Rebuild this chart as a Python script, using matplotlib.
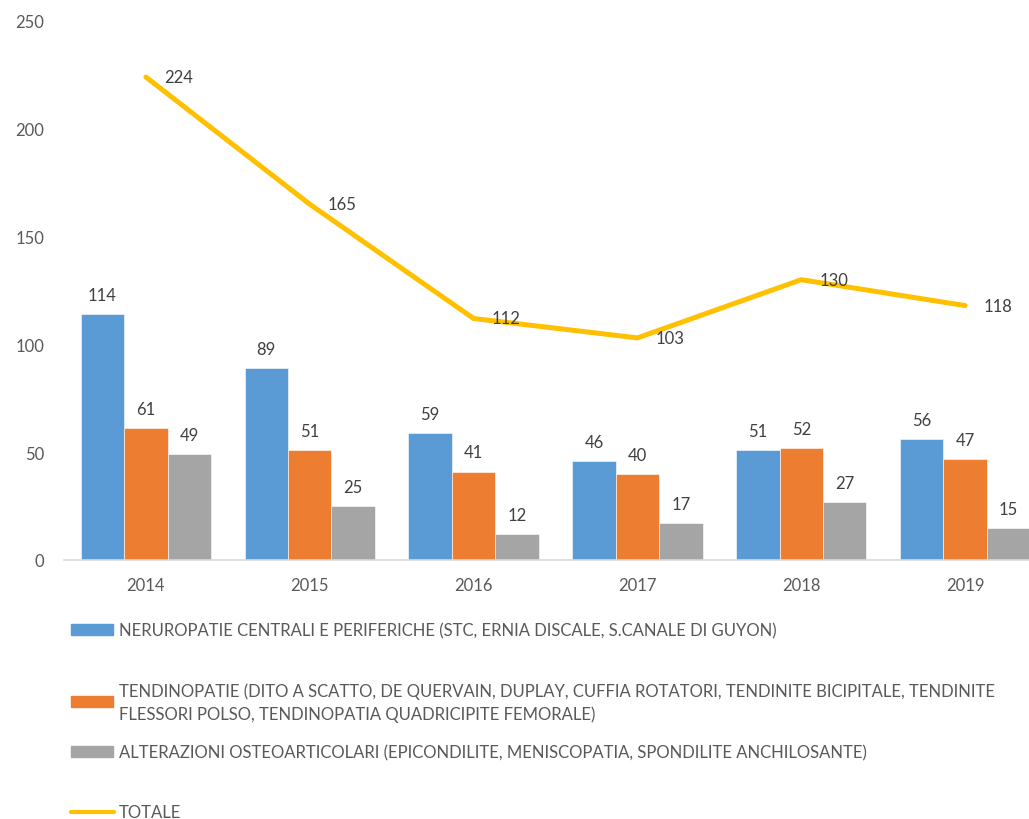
import matplotlib
matplotlib.use("Agg")
import matplotlib.pyplot as plt
from matplotlib.patches import Rectangle
from matplotlib.lines import Line2D
import numpy as np

plt.rcParams['font.family'] = ['Lato', 'DejaVu Sans']

years = ['2014', '2015', '2016', '2017', '2018', '2019']
neuropatie = [114, 89, 59, 46, 51, 56]
tendinopatie = [61, 51, 41, 40, 52, 47]
alterazioni = [49, 25, 12, 17, 27, 15]
totale = [224, 165, 112, 103, 130, 118]

labels = [
    'NERUROPATIE CENTRALI E PERIFERICHE (STC, ERNIA DISCALE, S.CANALE DI GUYON)',
    'TENDINOPATIE (DITO A SCATTO, DE QUERVAIN, DUPLAY, CUFFIA ROTATORI, TENDINITE BICIPITALE, TENDINITE\n'
    'FLESSORI POLSO, TENDINOPATIA QUADRICIPITE FEMORALE)',
    'ALTERAZIONI OSTEOARTICOLARI (EPICONDILITE, MENISCOPATIA, SPONDILITE ANCHILOSANTE)',
    'TOTALE',
]
colors = ['#5B9BD5', '#ED7D31', '#A5A5A5', '#FFC000']

fig = plt.figure(figsize=(10.29, 8.2), dpi=100)
ax = fig.add_axes([0.0622, 0.3159, 0.9553, 0.6573])

x = np.arange(len(years))
w = 0.265
series = [neuropatie, tendinopatie, alterazioni]
for i, vals in enumerate(series):
    bars = ax.bar(x + (i - 1) * w, vals, w, color=colors[i], edgecolor='white', linewidth=0.4)
    ax.bar_label(bars, padding=8, fontsize=12, color='#404040')

ax.plot(x, totale, color=colors[3], linewidth=3.6, solid_capstyle='round', solid_joinstyle='round')
for xi, v in zip(x, totale):
    ax.annotate(str(v), (xi, v), xytext=(13, 0), textcoords='offset points',
                ha='left', va='center', fontsize=12, color='#404040')

ax.set_xlim(-0.5, 5.5)
ax.set_ylim(0, 250)
ax.set_yticks([0, 50, 100, 150, 200, 250])
ax.set_xticks(x)
ax.set_xticklabels(years)
ax.tick_params(axis='both', length=0, labelsize=12, labelcolor='#595959')
ax.tick_params(axis='y', pad=14)
ax.tick_params(axis='x', pad=12)
for s in ['top', 'right', 'left']:
    ax.spines[s].set_visible(False)
ax.spines['bottom'].set_color('#D9D9D9')
ax.spines['bottom'].set_linewidth(1.2)

# legend drawn by hand (Excel style, uneven spacing)
W, H = 1029, 820
legend_y = [631, 703, 753, 813]
for i, (lab, c, yy) in enumerate(zip(labels, colors, legend_y)):
    if i < 3:
        fig.patches.append(Rectangle((71 / W, 1 - (yy + 5) / H), 42 / W, 11 / H,
                                     transform=fig.transFigure, color=c))
    else:
        fig.lines.append(Line2D([71 / W, 114 / W], [1 - yy / H, 1 - yy / H],
                                transform=fig.transFigure, color=c, linewidth=3,
                                solid_capstyle='round'))
    fig.text(119 / W, 1 - yy / H, lab, ha='left', va='center', fontsize=12,
             color='#595959', linespacing=1.5)

fig.savefig('out.png', dpi=100)
